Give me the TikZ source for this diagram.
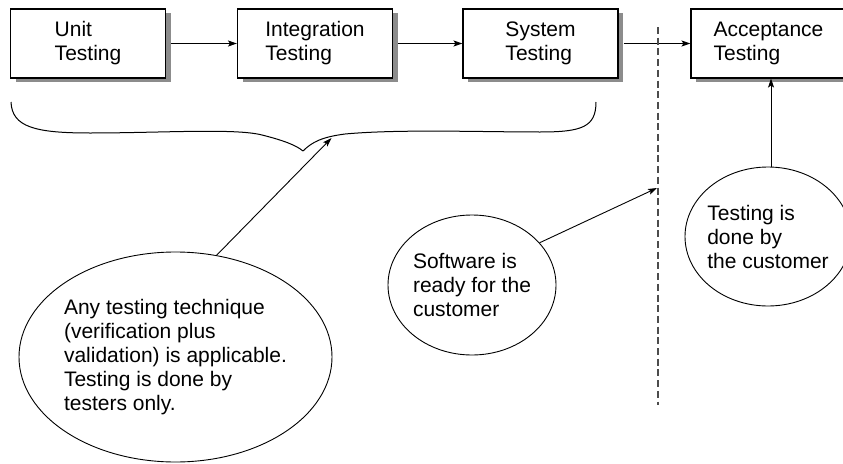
\documentclass[tikz,border=0pt]{standalone}
\usepackage{fontspec}
\setmainfont{Liberation Sans}
\usetikzlibrary{shapes.geometric,arrows.meta,shadows}
\begin{document}
\begin{tikzpicture}[x=1pt,y=-1pt,
  txt/.style={font=\fontsize{21}{24}\selectfont},
  box/.style={txt, draw, line width=1.1pt, fill=white, minimum width=155pt, minimum height=69pt,
    align=left, inner sep=0pt,
    drop shadow={shadow xshift=5pt, shadow yshift=-4pt, fill=black!45, opacity=1}},
  bubble/.style={txt, draw, ellipse, line width=0.9pt, align=left, inner xsep=-6pt, inner ysep=0pt},
  arr/.style={-{Stealth[length=9pt,width=6pt,inset=2pt]}, line width=0.9pt},
  divider/.style={draw=black!70, line width=1.6pt, dash pattern=on 7pt off 3.7pt},
  bracestyle/.style={line width=1pt, line join=round}
  ]
\useasboundingbox (0,0) rectangle (843,463);

% boxes
\node[box] (u) at (88,43.5) {Unit\\Testing};
\node[box] (i) at (315,43.5) {Integration\\Testing};
\node[box] (s) at (540.5,43.5) {System\\Testing};
\node[box] (a) at (768.5,43.5) {Acceptance\\Testing};

\draw[arr, shorten <=5pt] (u) -- (i);
\draw[arr, shorten <=5pt] (i) -- (s);
\draw[arr, shorten <=5pt] (s) -- (a);

% divider
\coordinate (dtop) at (658,27);
\coordinate (dbot) at (658,405);
\coordinate (dl) at (657,188);
\draw[divider] (dtop) -- (dbot);

% brace
\coordinate (bt) at (331.5,138);
\draw[bracestyle] (11,102) .. controls (12,127) and (35,133) .. (90,133)
  .. controls (160,133) and (235,128) .. (262,135)
  .. controls (282,140) and (296,145) .. (303,151)
  .. controls (312,142) and (322,137) .. (345,134)
  .. controls (400,129) and (480,132) .. (540,132)
  .. controls (582,132) and (596,127) .. (596,102);

% bubbles
\node[bubble, minimum width=313pt, minimum height=210pt] (e1) at (175.5,357)
  {Any testing technique\\(verification plus\\validation) is applicable.\\Testing is done by\\testers only.};
\node[bubble, minimum width=168pt, minimum height=140pt] (e2) at (472,285)
  {Software is\\ready for the\\customer};
\node[bubble, minimum width=166pt, minimum height=139pt] (e3) at (768,236.5)
  {Testing is\\done by\\the customer};

\draw[arr] (e1.68) -- (bt);
\draw[arr] (e2.32) -- (dl);
\draw[arr] ([xshift=3pt]e3.north) -- ([xshift=3pt]e3.north |- a.south);
\end{tikzpicture}
\end{document}
